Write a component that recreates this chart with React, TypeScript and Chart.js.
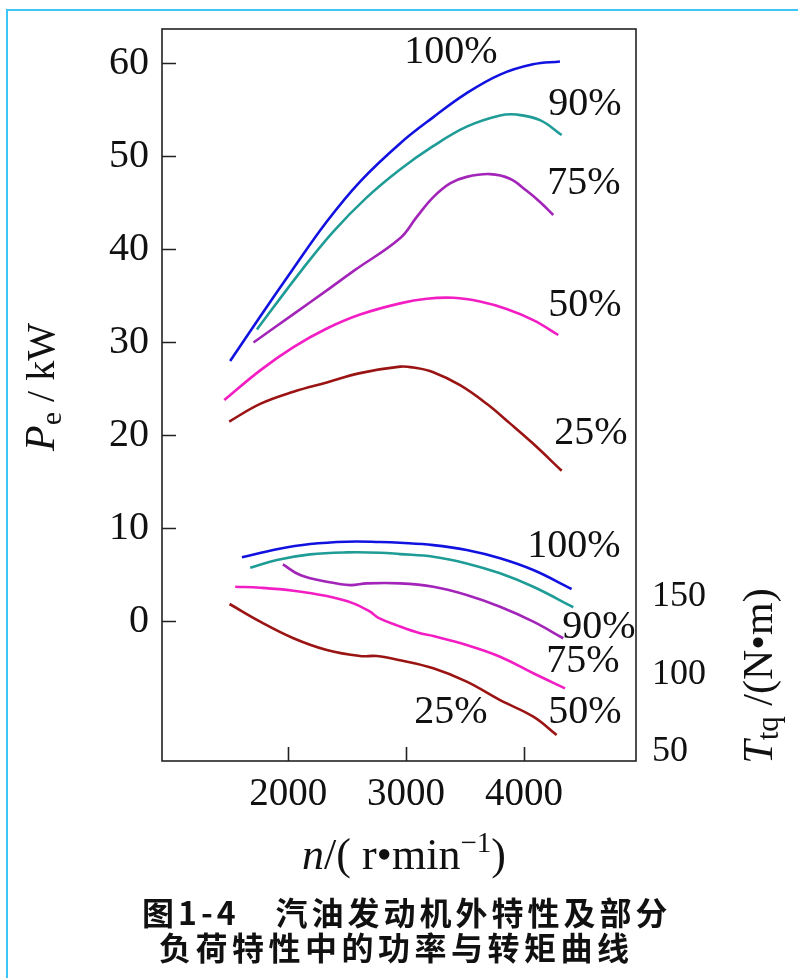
import React, { useEffect, useRef } from 'react';
import { Chart, registerables } from 'chart.js';

Chart.register(...registerables);

const SERIF = "'Liberation Serif', 'Times New Roman', serif";
const CJK = "'Noto Sans CJK SC', 'Noto Sans CJK JP', sans-serif";

// ---- axis ticks ----
const speedTicks = [2000, 3000, 4000];
const powerTicks = [0, 10, 20, 30, 40, 50, 60];
const torqueTicks = [50, 100, 150];

// ---- load levels ----
const loadNames = ['100%', '90%', '75%', '50%', '25%'];

// ---- power Pe (kW) vs speed n (r/min) ----
const p100Rpm = [1508, 1763, 2025, 2328, 2610, 2949, 3229, 3514, 3797, 4076, 4305];
const p100Kw = [28.0, 32.8, 37.6, 43.0, 47.3, 51.4, 54.2, 56.8, 58.8, 59.9, 60.2];

const p90Rpm = [1735, 2110, 2381, 2667, 2949, 3229, 3514, 3797, 3938, 4136, 4320];
const p90Kw = [31.4, 37.7, 41.9, 45.6, 48.6, 51.1, 53.2, 54.4, 54.5, 53.9, 52.3];

const p75Rpm = [1706, 2045, 2328, 2568, 2949, 3091, 3229, 3373, 3514, 3712, 3881, 4023, 4136, 4248];
const p75Kw = [30.0, 33.05, 35.6, 37.8, 41.2, 43.5, 45.6, 47.1, 47.8, 48.1, 47.6, 46.3, 45.1, 43.7];

const p50Rpm = [1458, 1763, 2045, 2328, 2610, 2949, 3175, 3401, 3627, 3853, 4079, 4291];
const p50Kw = [23.8, 27.0, 29.5, 31.5, 33.0, 34.2, 34.7, 34.8, 34.4, 33.6, 32.4, 30.8];

const p25Rpm = [1500, 1763, 2045, 2328, 2610, 2949, 3062, 3231, 3458, 3684, 3881, 4079, 4320];
const p25Kw = [21.5, 23.4, 24.7, 25.7, 26.7, 27.4, 27.3, 26.8, 25.4, 23.4, 21.3, 19.1, 16.2];

// ---- torque Ttq (N·m) vs speed n (r/min) ----
const t100Rpm = [1608, 1904, 2186, 2497, 2780, 2949, 3231, 3514, 3797, 4079, 4404];
const t100Nm = [175.6, 180.8, 184.2, 185.7, 185.5, 185.0, 183.5, 180.3, 175.0, 167.4, 155.2];

const t90Rpm = [1678, 1904, 2186, 2497, 2780, 2949, 3231, 3514, 3797, 4079, 4418];
const t90Nm = [168.9, 173.9, 177.5, 178.8, 178.6, 177.7, 176.0, 171.7, 165.3, 156.6, 143.4];

const t75Rpm = [1955, 2102, 2328, 2525, 2667, 2949, 3231, 3514, 3797, 4079, 4333];
const t75Nm = [171.1, 164.2, 159.9, 157.7, 158.8, 158.8, 156.6, 151.3, 143.7, 134.1, 123.4];

const t50Rpm = [1551, 1763, 2045, 2328, 2553, 2695, 2765, 2949, 3119, 3231, 3514, 3797, 4079, 4348];
const t50Nm = [156.6, 156.0, 154.1, 150.6, 145.9, 140.5, 136.6, 131.0, 126.6, 124.8, 119.0, 111.5, 100.8, 91.1];

const t25Rpm = [1503, 1763, 2045, 2328, 2610, 2752, 2949, 3231, 3514, 3797, 4079, 4277];
const t25Nm = [145.5, 134.1, 123.4, 115.8, 111.9, 111.9, 109.2, 104.0, 95.4, 83.5, 72.8, 61.0];

// ---- curve label anchors (data coordinates) ----
const powerLabelRpm = [3381, 4517, 4509, 4517, 4568];
const powerLabelKw = [61.2, 55.6, 47.1, 34.0, 20.2];
const torqueLabelRpm = [4424, 4636, 4500, 4517, 3381];
const torqueLabelNm = [182.3, 130.6, 108.1, 75.8, 75.8];

const colors = ['#1212e0', '#1f9c96', '#a324b8', '#f21ec4', '#9b1414'];

const zip = (xs: number[], ys: number[]) => xs.map((x, i) => ({ x, y: ys[i] }));

type Run = { t: string; font: string; dy?: number };
function drawRuns(ctx: CanvasRenderingContext2D, runs: Run[], cx: number, cy: number, rot: number) {
  ctx.save();
  ctx.translate(cx, cy);
  if (rot) ctx.rotate(rot);
  ctx.textBaseline = 'alphabetic';
  ctx.textAlign = 'left';
  const widths = runs.map((r) => {
    ctx.font = r.font;
    return ctx.measureText(r.t).width;
  });
  const total = widths.reduce((a, b) => a + b, 0);
  let x = -total / 2;
  runs.forEach((r, i) => {
    ctx.font = r.font;
    ctx.fillText(r.t, x, r.dy || 0);
    x += widths[i];
  });
  ctx.restore();
}

const decorPlugin = {
  id: 'decor',
  afterDraw(chart: any) {
    const { ctx, chartArea } = chart;
    const xs = chart.scales.x;
    const ys = chart.scales.y;
    const ts = chart.scales.y2;
    const { left, right, top, bottom } = chartArea;
    ctx.save();
    ctx.strokeStyle = '#222';
    ctx.lineWidth = 1.6;
    ctx.strokeRect(left, top, right - left, bottom - top);
    ctx.beginPath();
    powerTicks.forEach((v) => {
      const py = Math.round(ys.getPixelForValue(v)) + 0.5;
      ctx.moveTo(left, py);
      ctx.lineTo(left + 14, py);
    });
    speedTicks.forEach((v) => {
      const px = Math.round(xs.getPixelForValue(v)) + 0.5;
      ctx.moveTo(px, bottom);
      ctx.lineTo(px, bottom - 14);
    });
    ctx.stroke();

    ctx.fillStyle = '#111';
    ctx.textAlign = 'center';
    ctx.textBaseline = 'middle';
    ctx.font = `40px ${SERIF}`;
    loadNames.forEach((name, i) => {
      ctx.fillText(name, xs.getPixelForValue(powerLabelRpm[i]), ys.getPixelForValue(powerLabelKw[i]));
      ctx.fillText(name, xs.getPixelForValue(torqueLabelRpm[i]), ts.getPixelForValue(torqueLabelNm[i]));
    });

    // left axis title
    drawRuns(
      ctx,
      [
        { t: 'P', font: `italic 42px ${SERIF}` },
        { t: 'e', font: `30px ${SERIF}`, dy: 7 },
        { t: ' / kW', font: `40px ${SERIF}` },
      ],
      54,
      387,
      -Math.PI / 2
    );
    // right axis title
    drawRuns(
      ctx,
      [
        { t: 'T', font: `italic 42px ${SERIF}` },
        { t: 'tq', font: `31px ${SERIF}`, dy: 6 },
        { t: ' /(N•m)', font: `42px ${SERIF}` },
      ],
      772,
      676,
      -Math.PI / 2
    );
    // x axis title
    drawRuns(
      ctx,
      [
        { t: 'n', font: `italic 44px ${SERIF}` },
        { t: '/( r•min', font: `44px ${SERIF}` },
        { t: '−1', font: `29px ${SERIF}`, dy: -17 },
        { t: ')', font: `44px ${SERIF}` },
      ],
      404,
      869,
      0
    );

    // caption
    ctx.textAlign = 'left';
    ctx.textBaseline = 'middle';
    ctx.font = `bold 32px ${CJK}`;
    (ctx as any).letterSpacing = '4px';
    ctx.fillText('图1-4　汽油发动机外特性及部分', 142, 913);
    (ctx as any).letterSpacing = '4.5px';
    ctx.fillText('负荷特性中的功率与转矩曲线', 159, 948);
    (ctx as any).letterSpacing = '0px';
    ctx.restore();
  },
};

export default function App() {
  const ref = useRef<HTMLCanvasElement | null>(null);

  useEffect(() => {
    if (!ref.current) return;
    const powerSets = [
      zip(p100Rpm, p100Kw),
      zip(p90Rpm, p90Kw),
      zip(p75Rpm, p75Kw),
      zip(p50Rpm, p50Kw),
      zip(p25Rpm, p25Kw),
    ];
    const torqueSets = [
      zip(t100Rpm, t100Nm),
      zip(t90Rpm, t90Nm),
      zip(t75Rpm, t75Nm),
      zip(t50Rpm, t50Nm),
      zip(t25Rpm, t25Nm),
    ];
    const datasets: any[] = [];
    powerSets.forEach((d, i) =>
      datasets.push({
        label: `Pe ${loadNames[i]}`,
        data: d,
        yAxisID: 'y',
        borderColor: colors[i],
        borderWidth: 2.6,
        pointRadius: 0,
        fill: false,
        tension: 0.4,
      })
    );
    torqueSets.forEach((d, i) =>
      datasets.push({
        label: `Ttq ${loadNames[i]}`,
        data: d,
        yAxisID: 'y2',
        borderColor: colors[i],
        borderWidth: 2.6,
        pointRadius: 0,
        fill: false,
        tension: 0.4,
      })
    );

    const chart = new Chart(ref.current, {
      type: 'line',
      data: { datasets },
      options: {
        animation: false,
        responsive: false,
        layout: { padding: { top: 29, left: 0, right: 0, bottom: 0 } },
        plugins: { legend: { display: false }, tooltip: { enabled: false } },
        scales: {
          x: {
            type: 'linear',
            position: 'bottom',
            min: 930,
            max: 4950,
            grid: { display: false, drawTicks: false },
            border: { display: false },
            afterBuildTicks: (s: any) => {
              s.ticks = speedTicks.map((v) => ({ value: v }));
            },
            afterFit: (s: any) => {
              s.height = 217;
              s.paddingLeft = 0;
              s.paddingRight = 0;
            },
            ticks: {
              padding: 10,
              color: '#111',
              maxRotation: 0,
              font: { family: SERIF, size: 39 },
              callback: (v: any) => String(v),
            },
          },
          y: {
            type: 'linear',
            position: 'left',
            min: -15,
            max: 63.7,
            grid: { display: false, drawTicks: false },
            border: { display: false },
            afterBuildTicks: (s: any) => {
              s.ticks = powerTicks.map((v) => ({ value: v }));
            },
            afterFit: (s: any) => {
              s.width = 162;
              s.paddingTop = 0;
              s.paddingBottom = 0;
            },
            ticks: {
              padding: 13,
              color: '#111',
              font: { family: SERIF, size: 40 },
              callback: (v: any) => String(v),
            },
          },
          y2: {
            type: 'linear',
            position: 'right',
            min: 44.2,
            max: 516.5,
            grid: { display: false, drawTicks: false },
            border: { display: false },
            afterBuildTicks: (s: any) => {
              s.ticks = torqueTicks.map((v) => ({ value: v }));
            },
            afterFit: (s: any) => {
              s.width = 162;
              s.paddingTop = 0;
              s.paddingBottom = 0;
            },
            ticks: {
              padding: 16,
              color: '#111',
              font: { family: SERIF, size: 36 },
              callback: (v: any) => String(v),
            },
          },
        },
      },
      plugins: [decorPlugin],
    });
    return () => chart.destroy();
  }, []);

  return (
    <div style={{ position: 'absolute', left: 0, top: 0, width: 798, height: 978, background: '#fff', overflow: 'hidden' }}>
      <canvas ref={ref} width={798} height={978} style={{ display: 'block', width: 798, height: 978 }} />
      <div
        style={{
          position: 'absolute',
          left: 6,
          top: 9,
          width: 800,
          height: 980,
          borderLeft: '2px solid #3cc6f6',
          borderTop: '2px solid #3cc6f6',
          pointerEvents: 'none',
        }}
      />
    </div>
  );
}
